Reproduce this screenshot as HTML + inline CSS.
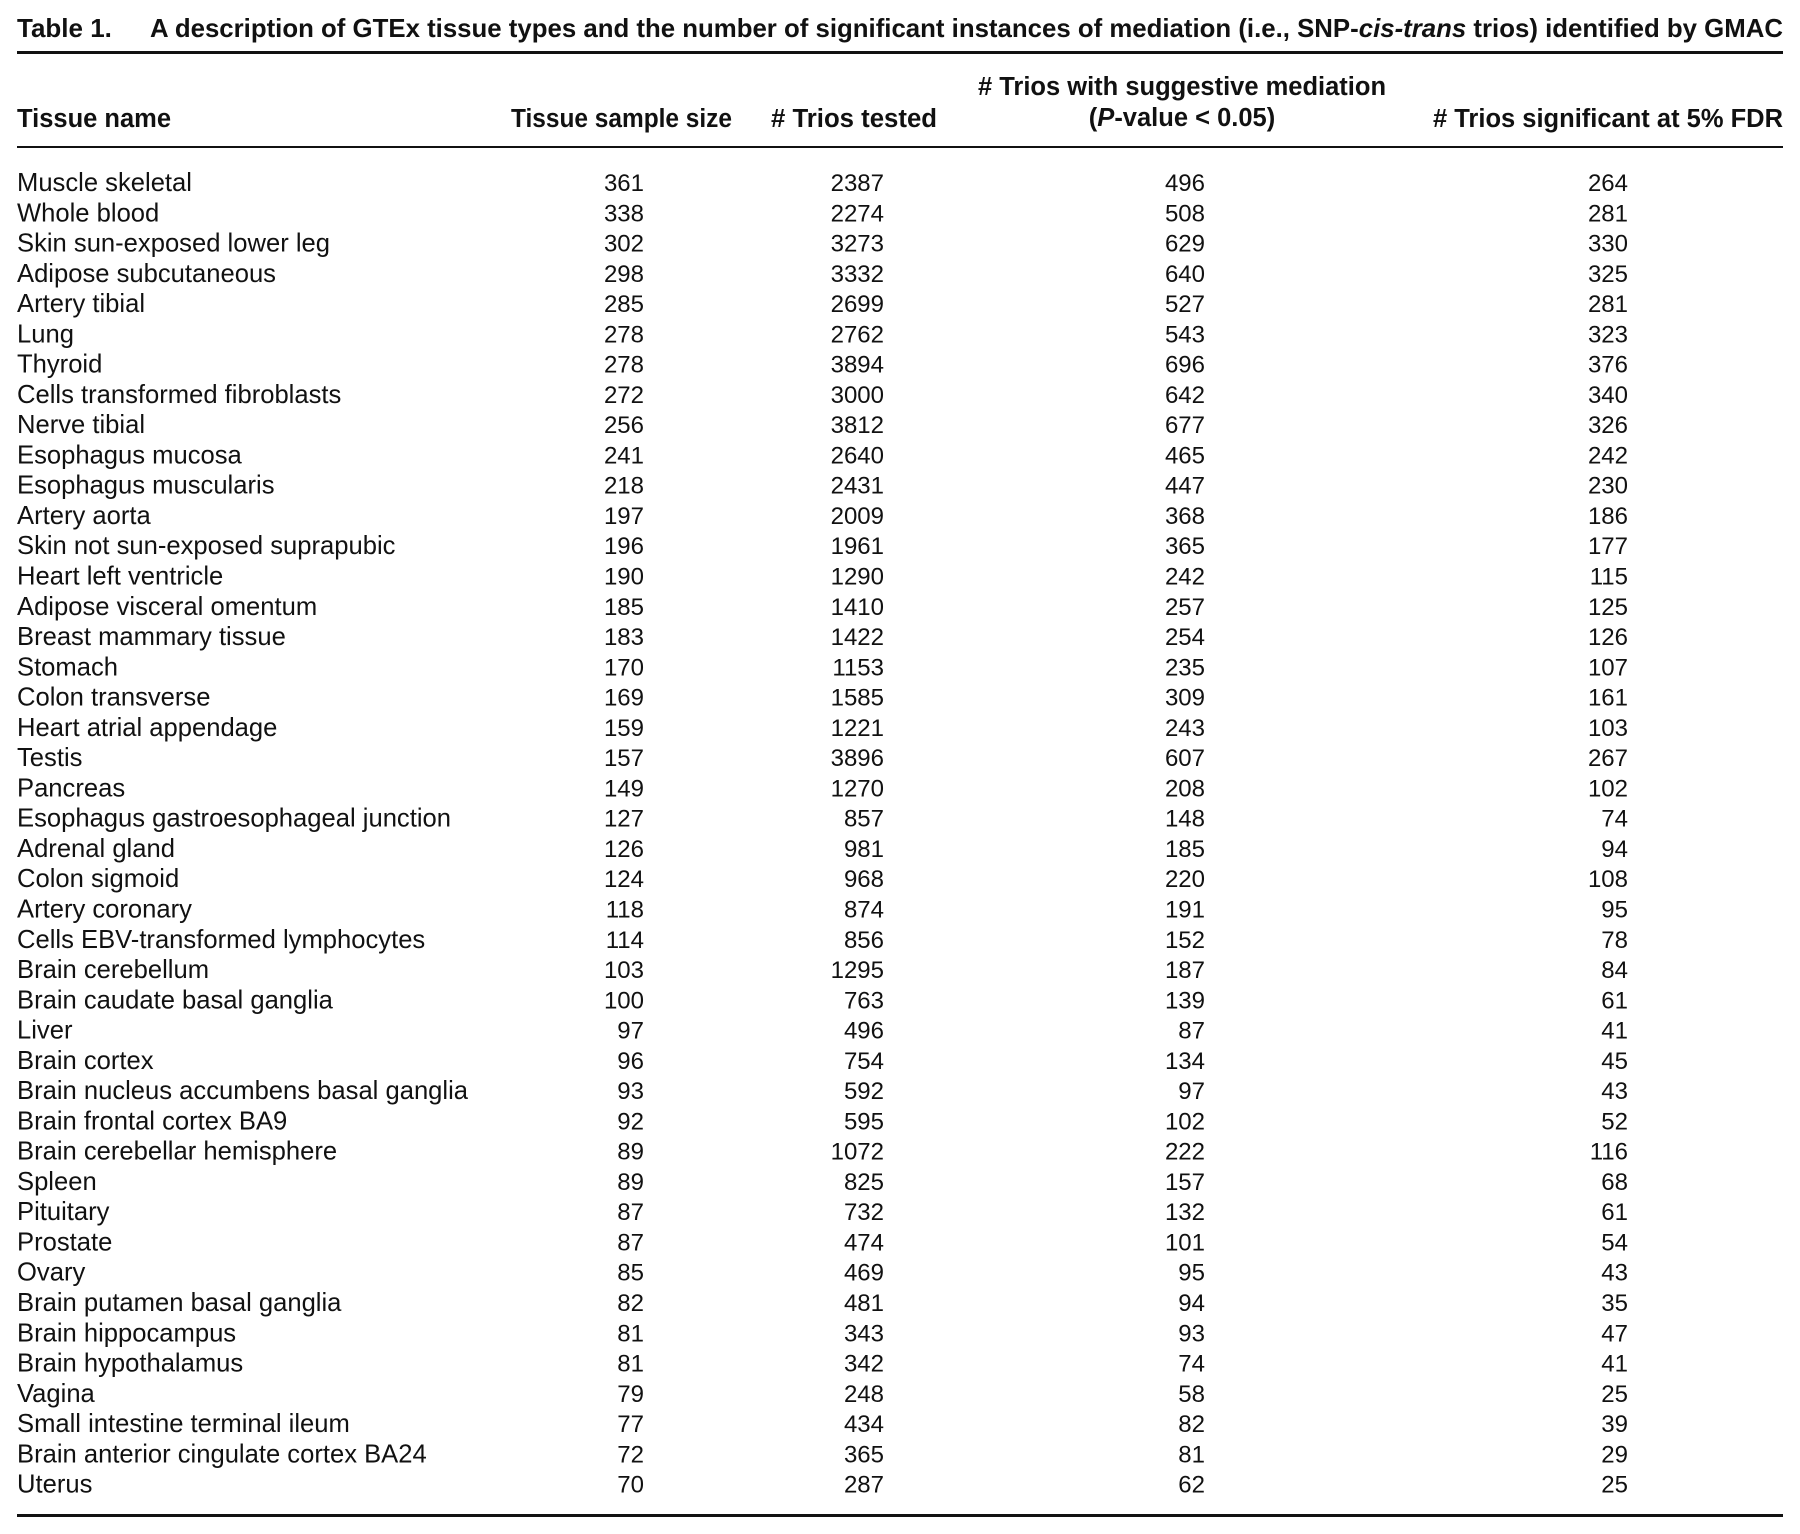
<!DOCTYPE html>
<html><head><meta charset="utf-8"><style>
html,body{margin:0;padding:0;background:#fff;}
svg{display:block;}
text{font-family:"Liberation Sans",sans-serif;fill:#111;}
.d{font-size:24px;}
.d text:not(.n){font-size:25.6px;}
.h{font-size:25.5px;font-weight:bold;}
.n{text-anchor:end;}
</style></head><body>
<svg width="1800" height="1534" viewBox="0 0 1800 1534" xmlns="http://www.w3.org/2000/svg">
<text x="17" y="37" style="font-size:26px;font-weight:bold">Table 1.</text>
<text x="150" y="37" style="font-size:26px;font-weight:bold" textLength="1633" lengthAdjust="spacingAndGlyphs">A description of GTEx tissue types and the number of significant instances of mediation (i.e., SNP-<tspan font-style="italic">cis-trans</tspan> trios) identified by GMAC</text>
<rect x="17" y="51" width="1766" height="3" fill="#111"/>
<text class="h" x="17" y="127">Tissue name</text>
<text class="h" x="511" y="127" textLength="221" lengthAdjust="spacingAndGlyphs">Tissue sample size</text>
<text class="h" x="771" y="127" textLength="166" lengthAdjust="spacingAndGlyphs"># Trios tested</text>
<text class="h" x="1182" y="95" text-anchor="middle"># Trios with suggestive mediation</text>
<text class="h" x="1182" y="126" text-anchor="middle">(<tspan font-style="italic">P</tspan>-value &lt; 0.05)</text>
<text class="h n" x="1783" y="127"># Trios significant at 5% FDR</text>
<rect x="17" y="146" width="1766" height="2" fill="#111"/>
<rect x="17" y="1514" width="1766" height="3" fill="#111"/>
<g class="d" transform="translate(0,-2)">
<text x="17" y="193">Muscle skeletal</text><text class="n" x="644" y="193">361</text><text class="n" x="884" y="193">2387</text><text class="n" x="1205" y="193">496</text><text class="n" x="1628" y="193">264</text>
<text x="17" y="223.3">Whole blood</text><text class="n" x="644" y="223.3">338</text><text class="n" x="884" y="223.3">2274</text><text class="n" x="1205" y="223.3">508</text><text class="n" x="1628" y="223.3">281</text>
<text x="17" y="253.5">Skin sun-exposed lower leg</text><text class="n" x="644" y="253.5">302</text><text class="n" x="884" y="253.5">3273</text><text class="n" x="1205" y="253.5">629</text><text class="n" x="1628" y="253.5">330</text>
<text x="17" y="283.8">Adipose subcutaneous</text><text class="n" x="644" y="283.8">298</text><text class="n" x="884" y="283.8">3332</text><text class="n" x="1205" y="283.8">640</text><text class="n" x="1628" y="283.8">325</text>
<text x="17" y="314.1">Artery tibial</text><text class="n" x="644" y="314.1">285</text><text class="n" x="884" y="314.1">2699</text><text class="n" x="1205" y="314.1">527</text><text class="n" x="1628" y="314.1">281</text>
<text x="17" y="344.4">Lung</text><text class="n" x="644" y="344.4">278</text><text class="n" x="884" y="344.4">2762</text><text class="n" x="1205" y="344.4">543</text><text class="n" x="1628" y="344.4">323</text>
<text x="17" y="374.6">Thyroid</text><text class="n" x="644" y="374.6">278</text><text class="n" x="884" y="374.6">3894</text><text class="n" x="1205" y="374.6">696</text><text class="n" x="1628" y="374.6">376</text>
<text x="17" y="404.9">Cells transformed fibroblasts</text><text class="n" x="644" y="404.9">272</text><text class="n" x="884" y="404.9">3000</text><text class="n" x="1205" y="404.9">642</text><text class="n" x="1628" y="404.9">340</text>
<text x="17" y="435.2">Nerve tibial</text><text class="n" x="644" y="435.2">256</text><text class="n" x="884" y="435.2">3812</text><text class="n" x="1205" y="435.2">677</text><text class="n" x="1628" y="435.2">326</text>
<text x="17" y="465.4">Esophagus mucosa</text><text class="n" x="644" y="465.4">241</text><text class="n" x="884" y="465.4">2640</text><text class="n" x="1205" y="465.4">465</text><text class="n" x="1628" y="465.4">242</text>
<text x="17" y="495.7">Esophagus muscularis</text><text class="n" x="644" y="495.7">218</text><text class="n" x="884" y="495.7">2431</text><text class="n" x="1205" y="495.7">447</text><text class="n" x="1628" y="495.7">230</text>
<text x="17" y="526">Artery aorta</text><text class="n" x="644" y="526">197</text><text class="n" x="884" y="526">2009</text><text class="n" x="1205" y="526">368</text><text class="n" x="1628" y="526">186</text>
<text x="17" y="556.2">Skin not sun-exposed suprapubic</text><text class="n" x="644" y="556.2">196</text><text class="n" x="884" y="556.2">1961</text><text class="n" x="1205" y="556.2">365</text><text class="n" x="1628" y="556.2">177</text>
<text x="17" y="586.5">Heart left ventricle</text><text class="n" x="644" y="586.5">190</text><text class="n" x="884" y="586.5">1290</text><text class="n" x="1205" y="586.5">242</text><text class="n" x="1628" y="586.5">115</text>
<text x="17" y="616.8">Adipose visceral omentum</text><text class="n" x="644" y="616.8">185</text><text class="n" x="884" y="616.8">1410</text><text class="n" x="1205" y="616.8">257</text><text class="n" x="1628" y="616.8">125</text>
<text x="17" y="647.1">Breast mammary tissue</text><text class="n" x="644" y="647.1">183</text><text class="n" x="884" y="647.1">1422</text><text class="n" x="1205" y="647.1">254</text><text class="n" x="1628" y="647.1">126</text>
<text x="17" y="677.3">Stomach</text><text class="n" x="644" y="677.3">170</text><text class="n" x="884" y="677.3">1153</text><text class="n" x="1205" y="677.3">235</text><text class="n" x="1628" y="677.3">107</text>
<text x="17" y="707.6">Colon transverse</text><text class="n" x="644" y="707.6">169</text><text class="n" x="884" y="707.6">1585</text><text class="n" x="1205" y="707.6">309</text><text class="n" x="1628" y="707.6">161</text>
<text x="17" y="737.9">Heart atrial appendage</text><text class="n" x="644" y="737.9">159</text><text class="n" x="884" y="737.9">1221</text><text class="n" x="1205" y="737.9">243</text><text class="n" x="1628" y="737.9">103</text>
<text x="17" y="768.1">Testis</text><text class="n" x="644" y="768.1">157</text><text class="n" x="884" y="768.1">3896</text><text class="n" x="1205" y="768.1">607</text><text class="n" x="1628" y="768.1">267</text>
<text x="17" y="798.4">Pancreas</text><text class="n" x="644" y="798.4">149</text><text class="n" x="884" y="798.4">1270</text><text class="n" x="1205" y="798.4">208</text><text class="n" x="1628" y="798.4">102</text>
<text x="17" y="828.7">Esophagus gastroesophageal junction</text><text class="n" x="644" y="828.7">127</text><text class="n" x="884" y="828.7">857</text><text class="n" x="1205" y="828.7">148</text><text class="n" x="1628" y="828.7">74</text>
<text x="17" y="858.9">Adrenal gland</text><text class="n" x="644" y="858.9">126</text><text class="n" x="884" y="858.9">981</text><text class="n" x="1205" y="858.9">185</text><text class="n" x="1628" y="858.9">94</text>
<text x="17" y="889.2">Colon sigmoid</text><text class="n" x="644" y="889.2">124</text><text class="n" x="884" y="889.2">968</text><text class="n" x="1205" y="889.2">220</text><text class="n" x="1628" y="889.2">108</text>
<text x="17" y="919.5">Artery coronary</text><text class="n" x="644" y="919.5">118</text><text class="n" x="884" y="919.5">874</text><text class="n" x="1205" y="919.5">191</text><text class="n" x="1628" y="919.5">95</text>
<text x="17" y="949.8">Cells EBV-transformed lymphocytes</text><text class="n" x="644" y="949.8">114</text><text class="n" x="884" y="949.8">856</text><text class="n" x="1205" y="949.8">152</text><text class="n" x="1628" y="949.8">78</text>
<text x="17" y="980">Brain cerebellum</text><text class="n" x="644" y="980">103</text><text class="n" x="884" y="980">1295</text><text class="n" x="1205" y="980">187</text><text class="n" x="1628" y="980">84</text>
<text x="17" y="1010.3">Brain caudate basal ganglia</text><text class="n" x="644" y="1010.3">100</text><text class="n" x="884" y="1010.3">763</text><text class="n" x="1205" y="1010.3">139</text><text class="n" x="1628" y="1010.3">61</text>
<text x="17" y="1040.6">Liver</text><text class="n" x="644" y="1040.6">97</text><text class="n" x="884" y="1040.6">496</text><text class="n" x="1205" y="1040.6">87</text><text class="n" x="1628" y="1040.6">41</text>
<text x="17" y="1070.8">Brain cortex</text><text class="n" x="644" y="1070.8">96</text><text class="n" x="884" y="1070.8">754</text><text class="n" x="1205" y="1070.8">134</text><text class="n" x="1628" y="1070.8">45</text>
<text x="17" y="1101.1">Brain nucleus accumbens basal ganglia</text><text class="n" x="644" y="1101.1">93</text><text class="n" x="884" y="1101.1">592</text><text class="n" x="1205" y="1101.1">97</text><text class="n" x="1628" y="1101.1">43</text>
<text x="17" y="1131.4">Brain frontal cortex BA9</text><text class="n" x="644" y="1131.4">92</text><text class="n" x="884" y="1131.4">595</text><text class="n" x="1205" y="1131.4">102</text><text class="n" x="1628" y="1131.4">52</text>
<text x="17" y="1161.6">Brain cerebellar hemisphere</text><text class="n" x="644" y="1161.6">89</text><text class="n" x="884" y="1161.6">1072</text><text class="n" x="1205" y="1161.6">222</text><text class="n" x="1628" y="1161.6">116</text>
<text x="17" y="1191.9">Spleen</text><text class="n" x="644" y="1191.9">89</text><text class="n" x="884" y="1191.9">825</text><text class="n" x="1205" y="1191.9">157</text><text class="n" x="1628" y="1191.9">68</text>
<text x="17" y="1222.2">Pituitary</text><text class="n" x="644" y="1222.2">87</text><text class="n" x="884" y="1222.2">732</text><text class="n" x="1205" y="1222.2">132</text><text class="n" x="1628" y="1222.2">61</text>
<text x="17" y="1252.5">Prostate</text><text class="n" x="644" y="1252.5">87</text><text class="n" x="884" y="1252.5">474</text><text class="n" x="1205" y="1252.5">101</text><text class="n" x="1628" y="1252.5">54</text>
<text x="17" y="1282.7">Ovary</text><text class="n" x="644" y="1282.7">85</text><text class="n" x="884" y="1282.7">469</text><text class="n" x="1205" y="1282.7">95</text><text class="n" x="1628" y="1282.7">43</text>
<text x="17" y="1313">Brain putamen basal ganglia</text><text class="n" x="644" y="1313">82</text><text class="n" x="884" y="1313">481</text><text class="n" x="1205" y="1313">94</text><text class="n" x="1628" y="1313">35</text>
<text x="17" y="1343.3">Brain hippocampus</text><text class="n" x="644" y="1343.3">81</text><text class="n" x="884" y="1343.3">343</text><text class="n" x="1205" y="1343.3">93</text><text class="n" x="1628" y="1343.3">47</text>
<text x="17" y="1373.5">Brain hypothalamus</text><text class="n" x="644" y="1373.5">81</text><text class="n" x="884" y="1373.5">342</text><text class="n" x="1205" y="1373.5">74</text><text class="n" x="1628" y="1373.5">41</text>
<text x="17" y="1403.8">Vagina</text><text class="n" x="644" y="1403.8">79</text><text class="n" x="884" y="1403.8">248</text><text class="n" x="1205" y="1403.8">58</text><text class="n" x="1628" y="1403.8">25</text>
<text x="17" y="1434.1">Small intestine terminal ileum</text><text class="n" x="644" y="1434.1">77</text><text class="n" x="884" y="1434.1">434</text><text class="n" x="1205" y="1434.1">82</text><text class="n" x="1628" y="1434.1">39</text>
<text x="17" y="1464.3">Brain anterior cingulate cortex BA24</text><text class="n" x="644" y="1464.3">72</text><text class="n" x="884" y="1464.3">365</text><text class="n" x="1205" y="1464.3">81</text><text class="n" x="1628" y="1464.3">29</text>
<text x="17" y="1494.6">Uterus</text><text class="n" x="644" y="1494.6">70</text><text class="n" x="884" y="1494.6">287</text><text class="n" x="1205" y="1494.6">62</text><text class="n" x="1628" y="1494.6">25</text>
</g>
</svg>
</body></html>
